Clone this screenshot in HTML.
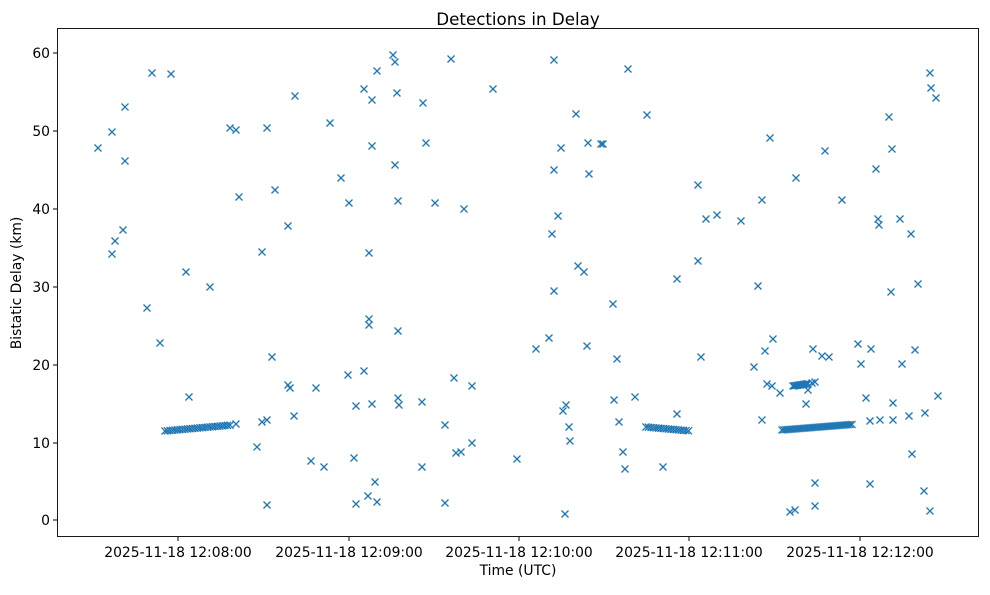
<!DOCTYPE html>
<html><head><meta charset="utf-8"><style>
body{margin:0;background:#fff;}
text{font-family:"DejaVu Sans","Liberation Sans",sans-serif;fill:#000;}
</style></head><body>
<svg id="s" width="990" height="590" xmlns="http://www.w3.org/2000/svg">
<rect width="990" height="590" fill="#fff"/>
<text x="518" y="25" font-size="16.7" text-anchor="middle">Detections in Delay</text>
<rect x="57.5" y="28.5" width="921" height="508" fill="none" stroke="#000" stroke-width="0.9"/>
<g font-size="13.9" text-anchor="end">
<line x1="53" y1="53" x2="57" y2="53" stroke="#000"/><text x="50" y="58">60</text>
<line x1="53" y1="131" x2="57" y2="131" stroke="#000"/><text x="50" y="136">50</text>
<line x1="53" y1="209" x2="57" y2="209" stroke="#000"/><text x="50" y="214">40</text>
<line x1="53" y1="287" x2="57" y2="287" stroke="#000"/><text x="50" y="292">30</text>
<line x1="53" y1="365" x2="57" y2="365" stroke="#000"/><text x="50" y="370">20</text>
<line x1="53" y1="443" x2="57" y2="443" stroke="#000"/><text x="50" y="448">10</text>
<line x1="53" y1="520" x2="57" y2="520" stroke="#000"/><text x="50" y="525">0</text>
</g>
<g font-size="13.9" text-anchor="middle">
<line x1="178" y1="537" x2="178" y2="541" stroke="#000"/><text x="178" y="557">2025-11-18 12:08:00</text>
<line x1="349" y1="537" x2="349" y2="541" stroke="#000"/><text x="349" y="557">2025-11-18 12:09:00</text>
<line x1="519" y1="537" x2="519" y2="541" stroke="#000"/><text x="519" y="557">2025-11-18 12:10:00</text>
<line x1="689" y1="537" x2="689" y2="541" stroke="#000"/><text x="689" y="557">2025-11-18 12:11:00</text>
<line x1="860" y1="537" x2="860" y2="541" stroke="#000"/><text x="860" y="557">2025-11-18 12:12:00</text>
</g>
<text x="518" y="575" font-size="13.9" text-anchor="middle">Time (UTC)</text>
<text transform="translate(21,283) rotate(-90)" font-size="13.9" text-anchor="middle">Bistatic Delay (km)</text>
<g id="pts" stroke="#1f77b4" stroke-width="1.3" fill="none"></g>
</svg>
<script>
var p=[[98,148],[112,132],[125,107],[112,254],[115,241],[123,230],[125,161],[152,73],[171,74],[147,308],[160,343],[186,272],[189,397],[210,287],[230,128],[236,130],[239,197],[257,447],[262,252],[262,422],[267,420],[267,128],[267,505],[272,357],[275,190],[288,226],[288,385],[290,388],[294,416],[295,96],[311,461],[316,388],[324,467],[330,123],[341,178],[349,203],[348,375],[354,458],[356,406],[356,504],[364,371],[364,89],[369,253],[369,319],[369,325],[372,146],[372,100],[372,404],[375,482],[368,496],[377,71],[377,502],[393,55],[395,62],[397,93],[395,165],[398,201],[398,331],[398,398],[399,405],[423,103],[426,143],[422,402],[422,467],[435,203],[445,425],[445,503],[451,59],[454,378],[456,453],[461,452],[464,209],[472,386],[472,443],[493,89],[517,459],
[536,349],[549,338],[552,234],[554,60],[554,170],[554,291],[558,216],[561,148],[563,411],[566,405],[565,514],[569,427],[570,441],[576,114],[578,266],[584,272],[587,346],[588,143],[589,174],[601,144],[603,144],[613,304],[614,400],[617,359],[619,422],[623,452],[625,469],[628,69],[635,397],[647,115],[663,467],[677,414],[677,279],[698,185],[698,261],[701,357],[706,219],[717,215],
[741,221],[754,367],[758,286],[762,420],[762,200],[765,351],[767,384],[770,138],[772,386],[773,339],[780,393],[790,512],[795,510],[796,178],[813,349],[815,483],[815,506],[822,356],[825,151],[829,357],[842,200],[858,344],[861,364],[866,398],[870,484],[870,421],[871,349],[876,169],[878,219],[879,225],[880,420],[889,117],[891,292],[892,149],[893,403],[893,420],[900,219],[902,364],[909,416],[911,234],[912,454],[915,350],[918,284],[924,491],[925,413],[930,73],[931,88],[930,511],[936,98],[938,396],[806,404],[808,390],[812,383],[815,382]];
for(var x=165;x<=230;x+=2.5)p.push([x,431-(x-165)*0.09]);
p.push([236,424]);
for(var x=646;x<=690;x+=2.5)p.push([x,427+(x-646)*0.09]);
for(var x=793;x<=808;x+=1.5)p.push([x,386-(x-793)*0.15]);
for(var x=782;x<=852;x+=2)p.push([x,430-(x-782)*0.08]);
var s='';p.forEach(function(q){var x=q[0],y=q[1];s+='<path d="M'+(x-3.5)+' '+(y-3.5)+'L'+(x+3.5)+' '+(y+3.5)+'M'+(x-3.5)+' '+(y+3.5)+'L'+(x+3.5)+' '+(y-3.5)+'"/>';});
document.getElementById('pts').innerHTML=s;
</script>
</body></html>
